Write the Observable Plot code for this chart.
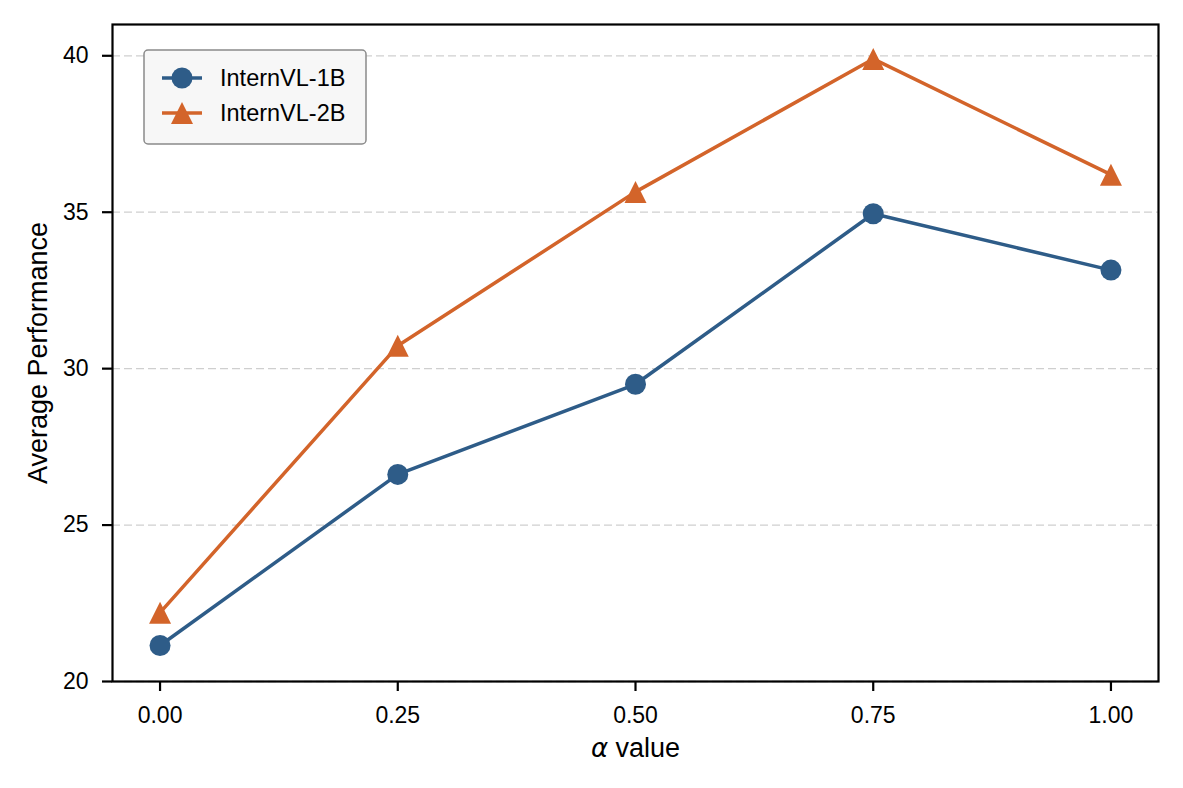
<!DOCTYPE html>
<html>
<head>
<meta charset="utf-8">
<script src="https://cdn.jsdelivr.net/npm/d3@7"></script>
<script src="https://cdn.jsdelivr.net/npm/@observablehq/plot@0.6"></script>
<style>
  html, body { margin: 0; padding: 0; background: #fff; }
  #chart { width: 1183px; height: 788px; }
</style>
</head>
<body>
<div id="chart"></div>
<script>
// ---- data ----
const alphaValues = [0, 0.25, 0.5, 0.75, 1.0];
const internVL1B = [21.15, 26.62, 29.5, 34.95, 33.15];
const internVL2B = [22.2, 30.73, 35.65, 39.9, 36.2];
const seriesNames = ["InternVL-1B", "InternVL-2B"];
const seriesColors = ["#2e5c88", "#d3642a"];
const xTicks = [0, 0.25, 0.5, 0.75, 1.0];
const yTicks = [20, 25, 30, 35, 40];

const rows = [];
alphaValues.forEach((a, i) => rows.push({alpha: a, value: internVL1B[i], series: seriesNames[0]}));
alphaValues.forEach((a, i) => rows.push({alpha: a, value: internVL2B[i], series: seriesNames[1]}));

// matplotlib-like "^" triangle (bbox-centered)
const triangle = {
  draw(context, size) {
    const r = Math.sqrt(size / Math.PI);
    context.moveTo(0, -r);
    context.lineTo(r, r);
    context.lineTo(-r, r);
    context.closePath();
  }
};

const FONT = "'Liberation Sans', Arial, Helvetica, sans-serif";
const W = 1183, H = 788;

const chart = Plot.plot({
  width: W,
  height: H,
  marginLeft: 112,
  marginRight: 25,
  marginTop: 24,
  marginBottom: 107,
  style: {fontFamily: FONT, color: "#000", background: "#fff", overflow: "visible"},
  x: {domain: [-0.05, 1.05]},
  y: {domain: [20, 41]},
  color: {domain: seriesNames, range: seriesColors},
  marks: [
    Plot.gridY(yTicks, {stroke: "#cfcfcf", strokeOpacity: 1, strokeWidth: 1.3, strokeDasharray: "8,4"}),
    Plot.axisX({ticks: xTicks, tickFormat: d3.format(".2f"), tickSize: 10, tickPadding: 15, fontSize: 23, strokeWidth: 2.2, label: null}),
    Plot.axisX({ticks: [], tickSize: 0, label: "α value", labelAnchor: "center", labelOffset: 75, labelArrow: "none", fontSize: 27}),
    Plot.axisY({ticks: yTicks, tickSize: 10, tickPadding: 14, fontSize: 23, strokeWidth: 2.2, label: null}),
    Plot.axisY({ticks: [], tickSize: 0, label: "Average Performance", labelAnchor: "center", labelOffset: 85, labelArrow: "none", fontSize: 27}),
    Plot.line(rows, {x: "alpha", y: "value", z: "series", stroke: "series", strokeWidth: 3.5}),
    Plot.dot(rows.filter(d => d.series === seriesNames[0]), {x: "alpha", y: "value", r: 10.5, fill: "series", symbol: "circle", stroke: null}),
    Plot.dot(rows.filter(d => d.series === seriesNames[1]), {x: "alpha", y: "value", r: 11, fill: "series", symbol: triangle, stroke: null}),
    Plot.frame({stroke: "#000", strokeWidth: 2.2})
  ]
});

document.getElementById("chart").appendChild(chart);

// italic alpha in x label
const svg = d3.select(chart.tagName.toLowerCase() === "svg" ? chart : chart.querySelector("svg"));
svg.selectAll("text").each(function() {
  const t = d3.select(this);
  if (t.text() === "α value") {
    t.text("");
    t.append("tspan").attr("font-style", "italic").attr("font-family", "'DejaVu Sans', sans-serif").attr("font-size", 26).text("α");
    t.append("tspan").text(" value");
  }
});

// legend inside the plot (upper left)
const lg = svg.append("g").attr("class", "legend").attr("font-family", FONT).attr("text-anchor", "start");
lg.append("rect").attr("x", 144).attr("y", 50).attr("width", 222).attr("height", 94)
  .attr("rx", 4).attr("ry", 4).attr("fill", "#f7f7f7").attr("stroke", "#8a8a8a").attr("stroke-width", 1.5);
seriesNames.forEach((name, i) => {
  const cy = 78 + i * 35;
  const g = lg.append("g");
  g.append("line").attr("x1", 162).attr("x2", 202).attr("y1", cy).attr("y2", cy)
    .attr("stroke", seriesColors[i]).attr("stroke-width", 3.5);
  if (i === 0) {
    g.append("circle").attr("cx", 182).attr("cy", cy).attr("r", 10.5).attr("fill", seriesColors[i]);
  } else {
    g.append("path").attr("d", `M182,${cy - 11}L193,${cy + 11}L171,${cy + 11}Z`).attr("fill", seriesColors[i]);
  }
  g.append("text").attr("x", 220).attr("y", cy).attr("dy", "0.35em").attr("font-size", 23.5)
    .attr("text-anchor", "start").attr("fill", "#000").text(name);
});
</script>
</body>
</html>
